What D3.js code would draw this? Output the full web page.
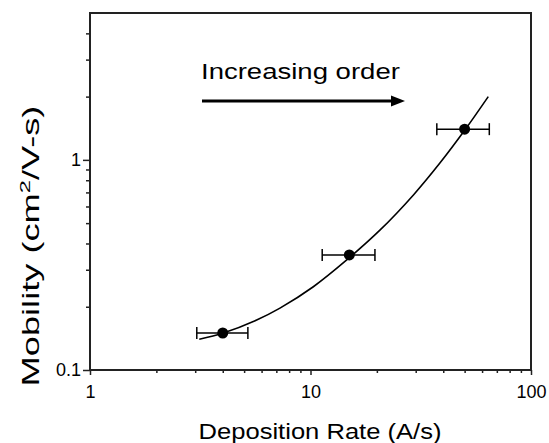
<!DOCTYPE html>
<html>
<head>
<meta charset="utf-8">
<script src="https://cdn.jsdelivr.net/npm/d3@7"></script>
<style>
  body { margin: 0; background: #fff; }
  text { font-family: "Liberation Sans", Arial, sans-serif; fill: #000; }
</style>
</head>
<body>
<div id="chart"></div>
<script>
// measured points (deposition rate A/s, mobility cm2/V-s) with x error range
let rate = [4, 15, 50];
let mobility = [0.15, 0.353, 1.4];
let rateLow = [3.05, 11.3, 37.4];
let rateHigh = [5.2, 19.6, 64.7];

// fitted curve
let fitRate = [3.13, 4.02, 5.7, 7.27, 10.3, 14.6, 20.7, 29.3, 38.7, 50.2, 64];
let fitMobility = [0.14, 0.15, 0.173, 0.197, 0.249, 0.334, 0.464, 0.681, 0.968, 1.39, 2.0];

// ticks
let xMajor = [1, 10, 100];
let xMinor = [2, 3, 4, 5, 6, 7, 8, 9, 20, 30, 40, 50, 60, 70, 80, 90];
let yMajor = [0.1, 1];
let yMinor = [0.2, 0.3, 0.4, 0.5, 0.6, 0.7, 0.8, 0.9, 2, 3, 4];

let config = {
  svg: { width: 549, height: 443 },
  plot: { left: 90, right: 531, top: 13, bottom: 370 }
};

var svg = d3.select("#chart").append("svg")
    .attr("width", config.svg.width)
    .attr("height", config.svg.height);

var x = d3.scaleLog().domain([1, 100]).range([config.plot.left, config.plot.right]);
var y = d3.scaleLog().domain([0.1, 5]).range([config.plot.bottom, config.plot.top]);

// the scanned lettering is wider than Arial: stretch a text to a given width
function stretch(sel, base, width) {
  var w = sel.node().getComputedTextLength();
  sel.attr("transform", base + " scale(" + (width / w) + ",1)");
}

// frame
svg.append("rect")
  .attr("x", config.plot.left)
  .attr("y", config.plot.top)
  .attr("width", config.plot.right - config.plot.left)
  .attr("height", config.plot.bottom - config.plot.top)
  .style("fill", "none")
  .style("stroke", "#222")
  .style("stroke-width", 2);

function styleAxis(g) {
  g.select(".domain").remove();
  g.selectAll("line").style("stroke", "#222").style("stroke-width", 1.5);
  g.selectAll("text").style("font-size", "18px").style("font-family", "Liberation Sans, Arial, sans-serif");
}

// x axis
svg.append("g")
  .attr("transform", "translate(0," + config.plot.bottom + ")")
  .call(d3.axisBottom(x).tickValues(xMajor).tickSize(5).tickPadding(10).tickFormat(d3.format("d")))
  .call(styleAxis);
svg.append("g")
  .attr("transform", "translate(0," + config.plot.bottom + ")")
  .call(d3.axisBottom(x).tickValues(xMinor).tickSize(3).tickFormat(""))
  .call(styleAxis);

// y axis
svg.append("g")
  .attr("transform", "translate(" + config.plot.left + ",0)")
  .call(d3.axisLeft(y).tickValues(yMajor).tickSize(7).tickPadding(2).tickFormat(function(d) { return d < 1 ? "0.1" : "1"; }))
  .call(styleAxis);
svg.append("g")
  .attr("transform", "translate(" + config.plot.left + ",0)")
  .call(d3.axisLeft(y).tickValues(yMinor).tickSize(4).tickFormat(""))
  .call(styleAxis);

// fitted curve
var fit = fitRate.map(function(r, i) { return [r, fitMobility[i]]; });
svg.append("path")
  .datum(fit)
  .attr("d", d3.line()
    .x(function(d) { return x(d[0]); })
    .y(function(d) { return y(d[1]); })
    .curve(d3.curveCatmullRom))
  .style("fill", "none")
  .style("stroke", "#000")
  .style("stroke-width", 1.6);

// error bars
var pts = rate.map(function(r, i) {
  return { r: r, m: mobility[i], lo: rateLow[i], hi: rateHigh[i] };
});
var eb = svg.selectAll(".err").data(pts).enter().append("g").attr("class", "err")
  .style("stroke", "#000").style("stroke-width", 1.5);
eb.append("line")
  .attr("x1", function(d) { return x(d.lo); })
  .attr("x2", function(d) { return x(d.hi); })
  .attr("y1", function(d) { return y(d.m); })
  .attr("y2", function(d) { return y(d.m); });
eb.append("line")
  .attr("x1", function(d) { return x(d.lo); })
  .attr("x2", function(d) { return x(d.lo); })
  .attr("y1", function(d) { return y(d.m) - 6; })
  .attr("y2", function(d) { return y(d.m) + 6; });
eb.append("line")
  .attr("x1", function(d) { return x(d.hi); })
  .attr("x2", function(d) { return x(d.hi); })
  .attr("y1", function(d) { return y(d.m) - 6; })
  .attr("y2", function(d) { return y(d.m) + 6; });

// points
svg.selectAll(".pt").data(pts).enter().append("circle")
  .attr("cx", function(d) { return x(d.r); })
  .attr("cy", function(d) { return y(d.m); })
  .attr("r", 5.5)
  .style("fill", "#000");

// annotation: text + arrow
var note = svg.append("text")
  .style("font-size", "22px")
  .text("Increasing order");
stretch(note, "translate(201,79)", 199);

svg.append("line")
  .attr("x1", 202).attr("x2", 393)
  .attr("y1", 101).attr("y2", 101)
  .style("stroke", "#000")
  .style("stroke-width", 3);
svg.append("path")
  .attr("d", "M391,95.5 L405,101 L391,106.5 Z")
  .style("fill", "#000");

// axis titles
var xt = svg.append("text")
  .attr("text-anchor", "middle")
  .style("font-size", "22px")
  .text("Deposition Rate (A/s)");
stretch(xt, "translate(320,439)", 243);

var yt = svg.append("text")
  .attr("text-anchor", "middle")
  .style("font-size", "23px");
yt.append("tspan").text("Mobility (cm");
yt.append("tspan").attr("dy", -9).style("font-size", "15px").text("2");
yt.append("tspan").attr("dy", 9).text("/V-s)");
stretch(yt, "translate(39,246) rotate(-90)", 281);
</script>
</body>
</html>
